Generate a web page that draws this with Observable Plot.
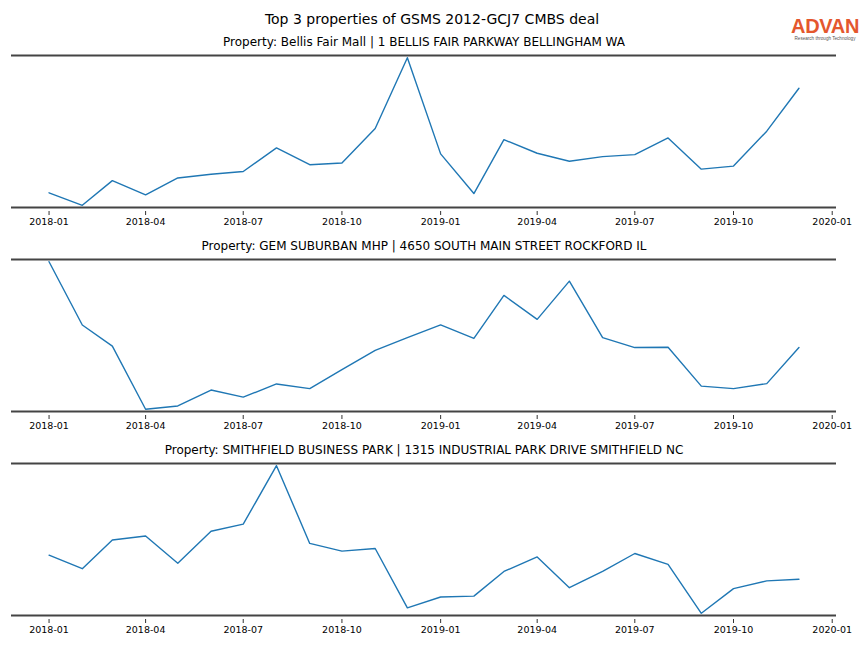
<!DOCTYPE html>
<html>
<head>
<meta charset="utf-8">
<script src="https://cdn.jsdelivr.net/npm/d3@7"></script>
<script src="https://cdn.jsdelivr.net/npm/@observablehq/plot@0.6"></script>
<style>
  html, body { margin: 0; padding: 0; background: #fff; }
  body { width: 864px; height: 648px; position: relative; overflow: hidden; font-family: "DejaVu Sans", sans-serif; }
  #header { position: relative; height: 35px; }
  #title { position: absolute; left: 0; width: 864px; top: 11px; text-align: center; font-size: 14px; color: #000; }
  #logo { position: absolute; left: 791px; top: 16px; width: 68px; text-align: center; }
  #logo .brand { font-family: "Liberation Sans", Arial, sans-serif; font-size: 20px; font-weight: 700; color: #e4572e; letter-spacing: -0.3px; line-height: 20px; }
  #logo .tag { font-family: "Liberation Sans", Arial, sans-serif; font-size: 4.6px; color: #555; line-height: 5px; white-space: nowrap; }
  .panel svg { display: block; }
</style>
</head>
<body>
<div id="header">
  <div id="title">Top 3 properties of GSMS 2012-GCJ7 CMBS deal</div>
  <div id="logo"><div class="brand">ADVAN</div><div class="tag">Research through Technology</div></div>
</div>
<div id="charts"></div>
<script>
// Months 2018-01 .. 2019-12
const months = ["2018-01","2018-02","2018-03","2018-04","2018-05","2018-06","2018-07","2018-08","2018-09","2018-10","2018-11","2018-12",
                "2019-01","2019-02","2019-03","2019-04","2019-05","2019-06","2019-07","2019-08","2019-09","2019-10","2019-11","2019-12"];

const titles = [
  "Property: Bellis Fair Mall | 1 BELLIS FAIR PARKWAY BELLINGHAM WA",
  "Property: GEM SUBURBAN MHP | 4650 SOUTH MAIN STREET ROCKFORD IL",
  "Property: SMITHFIELD BUSINESS PARK | 1315 INDUSTRIAL PARK DRIVE SMITHFIELD NC"
];

// Relative foot-traffic values (no y scale shown)
const bellisFair = [9.9, 1.8, 17.8, 8.6, 19.5, 21.9, 23.7, 39.0, 28.1, 29.2, 51.5, 97.4,
                    35.1, 9.4, 44.3, 35.5, 30.3, 33.3, 34.6, 45.4, 25.2, 27.2, 49.8, 77.6];
const gemSuburban = [98.4, 56.7, 42.7, 1.1, 3.3, 13.8, 9.1, 17.8, 14.7, 27.3, 40.0, 48.4,
                     56.7, 47.8, 76.2, 60.4, 85.6, 48.4, 41.8, 42.0, 16.4, 14.7, 18.0, 41.8];
const smithfield = [39.5, 30.5, 49.6, 52.2, 34.1, 55.4, 60.1, 98.9, 47.3, 42.2, 43.9, 4.5,
                    11.7, 12.3, 28.7, 38.3, 17.9, 28.7, 40.6, 33.4, 0.9, 17.3, 22.4, 23.5];

const seriesList = [bellisFair, gemSuburban, smithfield];

const parseMonth = d3.utcParse("%Y-%m");
const xDomain = [new Date(Date.UTC(2017, 10, 27)), new Date(Date.UTC(2020, 0, 5))];

const container = document.getElementById("charts");
seriesList.forEach((vals, i) => {
  const data = months.map((m, j) => ({date: parseMonth(m), value: vals[j]}));
  const [lo, hi] = d3.extent(vals);
  const pad = (hi - lo) * 0.015;
  const yDomain = [lo - pad, hi + pad];
  const chart = Plot.plot({
    width: 864,
    height: 204,
    marginTop: 20,
    marginBottom: 32,
    marginLeft: 11,
    marginRight: 28,
    style: {fontFamily: "DejaVu Sans, sans-serif", fontSize: "10px", background: "#fff", color: "#000"},
    x: {type: "utc", domain: xDomain},
    y: {domain: yDomain, axis: null},
    marks: [
      Plot.ruleY(yDomain, {stroke: "#444", strokeWidth: 2}),
      Plot.axisX({
        ticks: d3.utcMonth.every(3),
        tickFormat: d3.utcFormat("%Y-%m"),
        tickSize: 4,
        tickPadding: 3,
        dy: 4,
        fontSize: 9.5,
        stroke: "#333",
        label: null
      }),
      Plot.lineY(data, {x: "date", y: "value", stroke: "#1f77b4", strokeWidth: 1.4}),
      Plot.text([titles[i]], {frameAnchor: "top", dy: -13, text: d => d, fontSize: 12, fill: "#000", lineAnchor: "middle"})
    ]
  });
  const wrap = document.createElement("div");
  wrap.className = "panel";
  wrap.appendChild(chart);
  container.appendChild(wrap);
});
</script>
</body>
</html>
